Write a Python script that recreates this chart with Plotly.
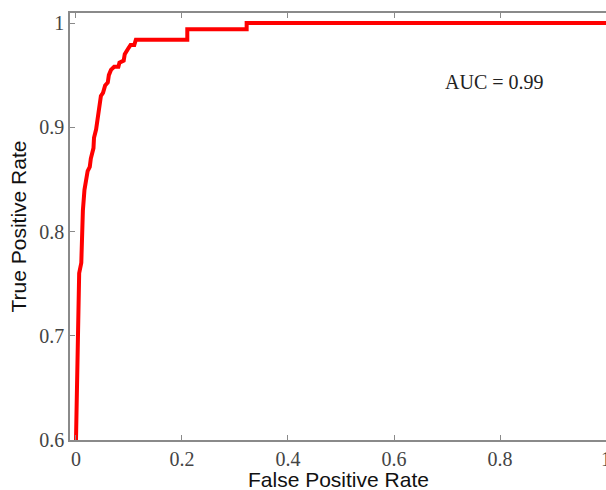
import plotly.graph_objects as go

# ROC curve points
fpr = [0.000, 0.002, 0.004, 0.005, 0.006, 0.010, 0.011, 0.013, 0.016, 0.019,
       0.022, 0.026, 0.028, 0.033, 0.034, 0.038, 0.040, 0.044, 0.047, 0.051,
       0.055, 0.060, 0.062, 0.066, 0.072, 0.080, 0.082, 0.090, 0.092, 0.098,
       0.103, 0.110, 0.113, 0.210, 0.210, 0.322, 0.322, 1.000]
tpr = [0.600, 0.650, 0.700, 0.740, 0.760, 0.770, 0.800, 0.820, 0.840, 0.850,
       0.858, 0.862, 0.870, 0.880, 0.890, 0.898, 0.905, 0.918, 0.930, 0.933,
       0.940, 0.943, 0.950, 0.955, 0.958, 0.958, 0.962, 0.964, 0.970, 0.975,
       0.979, 0.979, 0.984, 0.984, 0.994, 0.994, 1.000, 1.000]

x_ticks = [0, 0.2, 0.4, 0.6, 0.8, 1]
x_tick_text = ["0", "0.2", "0.4", "0.6", "0.8", "1"]
y_ticks = [0.6, 0.7, 0.8, 0.9, 1.0]
y_tick_text = ["0.6", "0.7", "0.8", "0.9", "1"]
auc_label = "AUC = 0.99"
x_title = "False Positive Rate"
y_title = "True Positive Rate"

fig = go.Figure()
fig.add_trace(go.Scatter(x=fpr, y=tpr, mode="lines",
                         line=dict(color="#ff0000", width=4), showlegend=False))

axis_common = dict(
    showline=True, linecolor="#8a8a8a", linewidth=1.5,
    ticks="inside", ticklen=5, tickcolor="#8a8a8a", tickwidth=1,
    showgrid=False, zeroline=False, automargin=False,
    ticklabeloverflow="allow",
    tickfont=dict(family="Liberation Serif", size=20, color="#444444"),
)

fig.update_layout(
    width=606, height=490,
    margin=dict(l=70, r=0, t=13, b=50),
    paper_bgcolor="white", plot_bgcolor="white",
    xaxis=dict(range=[-0.0113, 1.0], tickvals=x_ticks, ticktext=x_tick_text,
               mirror="ticks", **axis_common),
    yaxis=dict(range=[0.6, 1.0096], tickvals=y_ticks, ticktext=y_tick_text,
               mirror=False, **axis_common),
    annotations=[
        dict(text=auc_label, x=0.79, y=0.943, xref="x", yref="y", showarrow=False,
             font=dict(family="Liberation Serif", size=20, color="#222222"),
             xanchor="center", yanchor="middle"),
        dict(text=x_title, x=0.5, y=-0.092, xref="paper", yref="paper", showarrow=False,
             font=dict(family="Liberation Sans", size=21, color="#111111"),
             xanchor="center", yanchor="middle"),
        dict(text=y_title, x=-0.097, y=0.5, xref="paper", yref="paper", showarrow=False,
             textangle=-90,
             font=dict(family="Liberation Sans", size=21, color="#111111"),
             xanchor="center", yanchor="middle"),
    ],
)

fig.write_html("out.html")
